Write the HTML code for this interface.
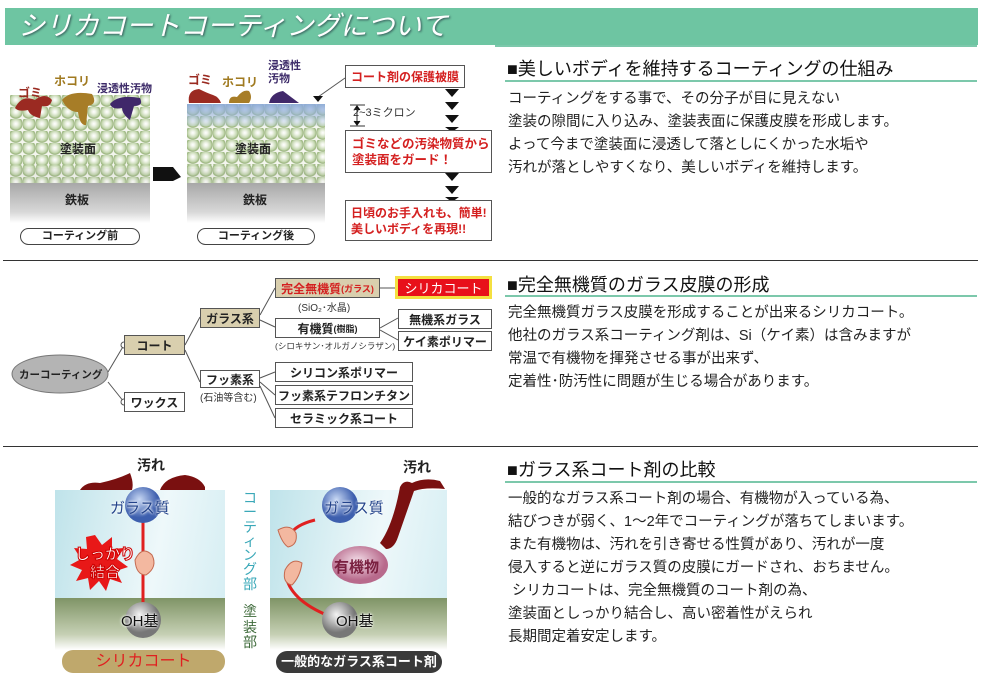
<!DOCTYPE html>
<html><head><meta charset="utf-8">
<style>
*{margin:0;padding:0;box-sizing:border-box}
body{width:984px;height:689px;background:#fff;position:relative;overflow:hidden;font-family:"Liberation Sans","Noto Sans CJK JP",sans-serif;color:#222}
.a{position:absolute;white-space:nowrap}
.b{position:absolute;border:1px solid #555;background:#fff;font-size:12px;font-weight:bold;display:flex;align-items:center;justify-content:center;white-space:nowrap}
.beige{background:#d9cfae}
.h{position:absolute;left:507px;font-size:18px;color:#111}
.ul{position:absolute;left:505px;width:472px;height:2px;background:#7cc8ab}
.p{position:absolute;left:508px;font-size:14.5px;line-height:23px;color:#222}
.div{position:absolute;left:3px;width:975px;height:1px;background:#333}
.bub{background-color:#f4f6ee;background-image:radial-gradient(circle at 45% 40%,#fff 0,#eef3e6 2px,#c3d6ae 5px,#9ab47e 6.5px,transparent 7.5px);background-size:13px 12px}
.tri{position:absolute;width:0;height:0;border-left:7px solid transparent;border-right:7px solid transparent;border-top:8px solid #111}
.rt{color:#d42020;font-weight:bold}
.sm{font-size:10px;color:#333}
</style></head><body>
<!-- header -->
<div class="a" style="left:5px;top:8px;width:973px;height:37px;background:#6ec5a2"></div>
<div class="a" style="left:18px;top:10px;font-size:27px;line-height:32px;font-style:italic;color:#fff;text-shadow:1px 1px 2px #355">シリカコートコーティングについて</div>

<!-- section1 left -->
<div class="a bub" style="left:10px;top:95px;width:140px;height:75px"></div>
<div class="a" style="left:10px;top:168px;width:140px;height:55px;background:linear-gradient(#8f8f8f,#d8d8d8 80%,#fff)"></div>
<div class="a bub" style="left:10px;top:165px;width:140px;height:18px;opacity:.9"></div>
<div class="a" style="left:60px;top:140px;font-size:12px;font-weight:bold">塗装面</div>
<div class="a" style="left:65px;top:191px;font-size:12px;font-weight:bold">鉄板</div>
<div class="a" style="left:18px;top:84px;font-size:12px;font-weight:bold;color:#9a2a20">ゴミ</div>
<div class="a" style="left:54px;top:72px;font-size:12px;font-weight:bold;color:#a07a20">ホコリ</div>
<div class="a" style="left:97px;top:80px;font-size:11px;font-weight:bold;color:#3c2a68">浸透性汚物</div>
<svg class="a" style="left:10px;top:90px" width="140" height="40">
<path d="M5 18 Q12 4 25 10 Q35 2 42 10 Q40 18 32 16 L30 28 Q20 26 18 20 Q8 22 5 18Z" fill="#9b2a22"/>
<path d="M52 10 Q60 0 82 4 Q88 14 78 16 L76 35 Q70 36 68 22 Q58 22 52 10Z" fill="#a77d27"/>
<path d="M100 14 Q108 4 130 8 Q134 16 124 16 L120 30 Q112 24 112 18 Q102 20 100 14Z" fill="#40286a"/>
</svg>
<div class="a" style="left:20px;top:228px;width:120px;height:17px;border:1px solid #444;border-radius:9px;font-size:11px;font-weight:bold;text-align:center;line-height:15px">コーティング前</div>
<svg class="a" style="left:153px;top:163px" width="30" height="20"><path d="M0 4 H20 L28 14 L20 18 H0Z" fill="#111"/></svg>

<!-- panel 2 -->
<div class="a bub" style="left:187px;top:104px;width:138px;height:66px"></div>
<div class="a" style="left:187px;top:104px;width:138px;height:22px;background:linear-gradient(rgba(140,170,220,.9),rgba(180,200,230,.2))"></div>
<div class="a" style="left:187px;top:168px;width:138px;height:55px;background:linear-gradient(#8f8f8f,#d8d8d8 80%,#fff)"></div>
<div class="a bub" style="left:187px;top:165px;width:138px;height:18px;opacity:.9"></div>
<div class="a" style="left:235px;top:140px;font-size:12px;font-weight:bold">塗装面</div>
<div class="a" style="left:243px;top:191px;font-size:12px;font-weight:bold">鉄板</div>
<div class="a" style="left:188px;top:71px;font-size:12px;font-weight:bold;color:#9a2a20">ゴミ</div>
<div class="a" style="left:222px;top:73px;font-size:12px;font-weight:bold;color:#a07a20">ホコリ</div>
<div class="a" style="left:268px;top:60px;font-size:11px;font-weight:bold;color:#3c2a68;line-height:13px">浸透性<br>汚物</div>
<svg class="a" style="left:187px;top:85px" width="140" height="20">
<path d="M2 18 Q0 5 12 4 Q20 8 26 10 Q32 12 34 18Z" fill="#9b2a22"/>
<path d="M42 18 Q42 10 50 12 Q56 4 62 6 Q66 12 62 18Z" fill="#a77d27"/>
<path d="M82 18 Q84 8 96 6 Q104 12 112 18Z" fill="#40286a"/>
</svg>
<div class="a" style="left:197px;top:228px;width:118px;height:17px;border:1px solid #444;border-radius:9px;font-size:11px;font-weight:bold;text-align:center;line-height:15px">コーティング後</div>

<!-- right flow -->
<svg class="a" style="left:310px;top:60px" width="190" height="190">
<path d="M8 37 L35 18" stroke="#555"/>
<path d="M3 36 h10 l-5 6z" fill="#111"/>
<path d="M40 45 H55 M40 66 H55 M47 46 V65" stroke="#333"/>
<path d="M44 50 l3 -4 l3 4 M44 61 l3 4 l3 -4" fill="#111" stroke="#111"/>
</svg>
<div class="a" style="left:353px;top:104px;font-size:11px;color:#333">2~3ミクロン</div>
<div class="b rt" style="left:345px;top:65px;width:120px;height:23px;font-size:12px;color:#d42020">コート剤の保護被膜</div>
<div class="tri" style="left:445px;top:89px"></div>
<div class="tri" style="left:445px;top:102px"></div>
<div class="tri" style="left:445px;top:115px"></div>
<div class="tri" style="left:445px;top:127px;border-top-width:5px"></div>
<div class="b rt" style="left:345px;top:130px;width:147px;height:43px;font-size:12.5px;color:#d42020;justify-content:flex-start;padding-left:6px;line-height:16px">ゴミなどの汚染物質から<br>塗装面をガード！</div>
<div class="tri" style="left:445px;top:173px"></div>
<div class="tri" style="left:445px;top:186px"></div>
<div class="tri" style="left:445px;top:197px;border-top-width:5px"></div>
<div class="b rt" style="left:345px;top:200px;width:147px;height:41px;font-size:12px;color:#d42020;justify-content:flex-start;padding-left:5px;line-height:16px">日頃のお手入れも、簡単!<br>美しいボディを再現!!</div>

<!-- right text 1 -->
<div class="ul" style="top:45px;left:495px;width:482px"></div>
<div class="h" style="top:55px">■美しいボディを維持するコーティングの仕組み</div>
<div class="ul" style="top:80px"></div>
<div class="p" style="top:88px">コーティングをする事で、その分子が目に見えない<br>塗装の隙間に入り込み、塗装表面に保護皮膜を形成します。<br>よって今まで塗装面に浸透して落としにくかった水垢や<br>汚れが落としやすくなり、美しいボディを維持します。</div>

<div class="div" style="top:260px"></div>

<!-- section 2 tree -->
<svg class="a" style="left:0;top:260px" width="500" height="180">
<g stroke="#555" fill="none">
<path d="M108 112 L124 85 M108 122 L124 142"/>
<path d="M185 85 L200 57 M185 90 L200 122"/>
<path d="M260 55 L275 28 M260 60 L275 67"/>
<path d="M380 28 H395 M380 68 L398 58 M380 70 L398 80"/>
<path d="M260 118 L275 112 M260 122 L275 135 M260 126 L275 158"/>
</g>
<circle cx="124" cy="85" r="3" fill="#fff" stroke="#555"/>
<circle cx="124" cy="142" r="3" fill="#fff" stroke="#555"/>
<ellipse cx="60" cy="114" rx="48" ry="19" fill="#b4b4b4" stroke="#777"/>
</svg>
<div class="a" style="left:19px;top:367px;font-size:10.5px;font-weight:bold">カーコーティング</div>
<div class="b beige" style="left:124px;top:335px;width:61px;height:20px">コート</div>
<div class="b" style="left:124px;top:392px;width:61px;height:20px">ワックス</div>
<div class="b beige" style="left:200px;top:308px;width:60px;height:20px">ガラス系</div>
<div class="b" style="left:200px;top:370px;width:60px;height:18px">フッ素系</div>
<div class="a sm" style="left:200px;top:389px">(石油等含む)</div>
<div class="b beige" style="left:275px;top:278px;width:105px;height:20px;color:#d42020">完全無機質<span style="font-size:9px">(ガラス)</span></div>
<div class="a sm" style="left:298px;top:299px">(SiO₂･水晶)</div>
<div class="b" style="left:275px;top:318px;width:105px;height:20px">有機質<span style="font-size:9px">(樹脂)</span></div>
<div class="a" style="left:275px;top:340px;font-size:8.5px;color:#333">(シロキサン･オルガノシラザン)</div>
<div class="b" style="left:395px;top:276px;width:97px;height:23px;background:#e8101a;border:3px solid #f4e040;color:#fff;font-weight:normal;font-size:13px">シリカコート</div>
<div class="b" style="left:398px;top:309px;width:94px;height:20px">無機系ガラス</div>
<div class="b" style="left:398px;top:331px;width:94px;height:20px">ケイ素ポリマー</div>
<div class="b" style="left:275px;top:362px;width:138px;height:20px">シリコン系ポリマー</div>
<div class="b" style="left:275px;top:385px;width:138px;height:20px">フッ素系テフロンチタン</div>
<div class="b" style="left:275px;top:408px;width:138px;height:20px">セラミック系コート</div>

<div class="h" style="top:271px">■完全無機質のガラス皮膜の形成</div>
<div class="ul" style="top:295px"></div>
<div class="p" style="top:302px">完全無機質ガラス皮膜を形成することが出来るシリカコート。<br>他社のガラス系コーティング剤は、Si（ケイ素）は含みますが<br>常温で有機物を揮発させる事が出来ず、<br>定着性･防汚性に問題が生じる場合があります。</div>

<div class="div" style="top:446px"></div>

<!-- section 3 -->
<div class="a" style="left:55px;top:490px;width:170px;height:108px;background:linear-gradient(100deg,#bfe3ea,#eef8fa 60%,#d6eef3)"></div>
<div class="a" style="left:55px;top:598px;width:170px;height:52px;background:linear-gradient(#7f9466,#c6d0b4 70%,#fff)"></div>
<div class="a" style="left:270px;top:490px;width:177px;height:108px;background:linear-gradient(100deg,#bfe3ea,#eef8fa 60%,#d6eef3)"></div>
<div class="a" style="left:270px;top:598px;width:177px;height:52px;background:linear-gradient(#7f9466,#c6d0b4 70%,#fff)"></div>
<svg class="a" style="left:0;top:445px" width="500" height="244">
<defs>
<radialGradient id="bl" cx="40%" cy="35%"><stop offset="0" stop-color="#c8d8f4"/><stop offset="1" stop-color="#3d5fae"/></radialGradient>
<radialGradient id="gr" cx="40%" cy="35%"><stop offset="0" stop-color="#f4f4f4"/><stop offset="1" stop-color="#777"/></radialGradient>
<radialGradient id="pk" cx="45%" cy="40%"><stop offset="0" stop-color="#f4e0ea"/><stop offset="1" stop-color="#b86a8c"/></radialGradient>
</defs>
<path d="M80 45 Q86 36 100 38 Q118 34 130 28 Q134 38 132 45Z M160 45 Q165 32 185 30 Q200 32 205 42 L205 45Z" fill="#7a1010"/>
<line x1="143" y1="75" x2="143" y2="160" stroke="#e02020" stroke-width="3"/>
<circle cx="143" cy="60" r="18" fill="url(#bl)"/>
<circle cx="143" cy="175" r="18" fill="url(#gr)"/>
<path d="M135 115 Q142 100 152 110 Q158 122 146 130 Q136 130 135 115Z" fill="#f3b8a0" stroke="#c46a50"/>
<polygon points="95,90 102,100 112,92 112,104 124,103 117,114 128,122 116,126 122,138 110,134 106,146 99,136 90,145 88,133 76,136 82,125 70,120 81,114 74,103 87,104 86,92" fill="#e81818"/>
<path d="M315 75 Q295 80 290 90 M287 135 Q295 160 340 175" stroke="#e02020" stroke-width="3" fill="none"/>
<circle cx="340" cy="60" r="18" fill="url(#bl)"/>
<circle cx="340" cy="175" r="18" fill="url(#gr)"/>
<ellipse cx="360" cy="120" rx="28" ry="19" fill="url(#pk)"/>
<path d="M278 85 Q290 78 296 88 Q298 100 288 102 Q282 98 278 85Z M285 125 Q292 112 302 118 Q300 132 292 140 Q282 138 285 125Z" fill="#f3b8a0" stroke="#c46a50"/>
<path d="M400 42 Q404 34 412 38 Q425 32 440 36 L445 44 Q425 42 414 46 L398 92 Q394 104 386 104 L380 98 Q393 80 400 42Z" fill="#7a1010"/>
</svg>
<div class="a" style="left:137px;top:455px;font-size:14px;font-weight:bold;color:#222">汚れ</div>
<div class="a" style="left:403px;top:457px;font-size:14px;font-weight:bold;color:#222">汚れ</div>
<div class="a" style="left:110px;top:497px;font-size:15px;color:#22428a;text-shadow:0 0 2px #fff,0 0 3px #fff">ガラス質</div>
<div class="a" style="left:121px;top:610px;font-size:15px;color:#111;text-shadow:0 0 2px #fff,0 0 3px #fff">OH基</div>
<div class="a" style="left:75px;top:546px;font-size:15px;font-weight:bold;color:#fff;line-height:18px;text-align:center;-webkit-text-stroke:1px #c00">しっかり<br>結合</div>
<div class="a" style="left:324px;top:497px;font-size:15px;color:#22428a;text-shadow:0 0 2px #fff,0 0 3px #fff">ガラス質</div>
<div class="a" style="left:336px;top:610px;font-size:15px;color:#111;text-shadow:0 0 2px #fff,0 0 3px #fff">OH基</div>
<div class="a" style="left:334px;top:556px;font-size:15px;font-weight:bold;color:#7a2040">有機物</div>
<div class="a" style="left:242px;top:491px;width:16px;font-size:14px;line-height:14.3px;color:#3aa8b8;white-space:normal;text-align:center">コーティング部</div>
<div class="a" style="left:242px;top:604px;width:16px;font-size:14px;line-height:15.5px;color:#3e6a3a;white-space:normal;text-align:center">塗装部</div>
<div class="a" style="left:62px;top:650px;width:163px;height:23px;border-radius:11px;background:#bfa86c;color:#e02020;font-size:16px;text-align:center;line-height:23px">シリカコート</div>
<div class="a" style="left:276px;top:651px;width:166px;height:22px;border-radius:11px;background:#3a3a3a;color:#fff;font-size:13px;font-weight:bold;text-align:center;line-height:22px">一般的なガラス系コート剤</div>

<div class="h" style="top:456px">■ガラス系コート剤の比較</div>
<div class="ul" style="top:481px"></div>
<div class="p" style="top:488px">一般的なガラス系コート剤の場合、有機物が入っている為、<br>結びつきが弱く、1～2年でコーティングが落ちてしまいます。<br>また有機物は、汚れを引き寄せる性質があり、汚れが一度<br>侵入すると逆にガラス質の皮膜にガードされ、おちません。<br>&nbsp;シリカコートは、完全無機質のコート剤の為、<br>塗装面としっかり結合し、高い密着性がえられ<br>長期間定着安定します。</div>
</body></html>
